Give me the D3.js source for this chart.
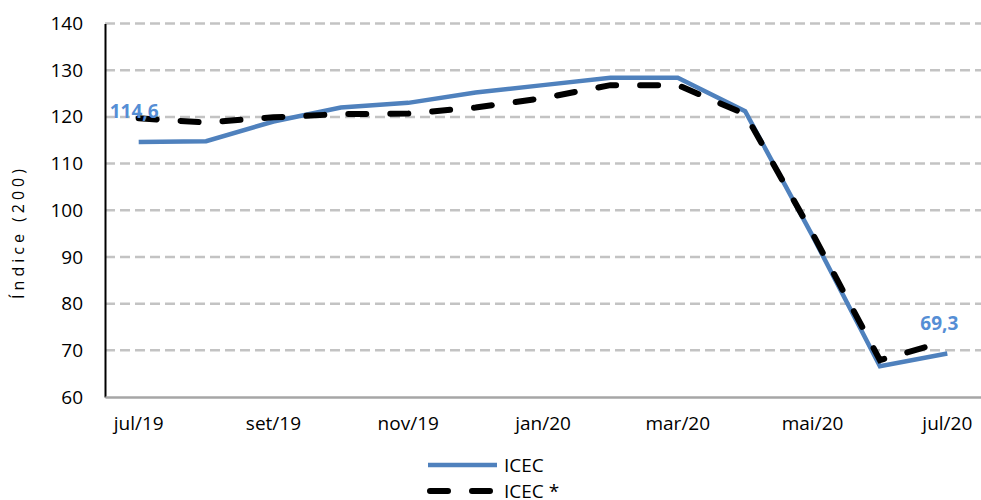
<!DOCTYPE html>
<html><head><meta charset="utf-8">
<script src="https://cdn.jsdelivr.net/npm/d3@7"></script>
<style>body{margin:0;background:#fff;}svg{display:block;font-family:"Open Sans",Lato,sans-serif;}</style>
</head><body>
<svg id="c" width="981" height="500"></svg>
<script>
const months = ["jul/19","ago/19","set/19","out/19","nov/19","dez/19","jan/20","fev/20","mar/20","abr/20","mai/20","jun/20","jul/20"];
const tickLabels = ["jul/19","set/19","nov/19","jan/20","mar/20","mai/20","jul/20"];
const icec = [114.6,114.8,119.0,122.0,123.0,125.2,126.8,128.4,128.4,121.2,94.5,66.6,69.3];
const icecStar = [119.7,118.8,119.9,120.6,120.7,122.0,124.0,126.8,126.8,120.6,95.0,67.9,72.0];
const yTicks = [60,70,80,90,100,110,120,130,140];
const seriesNames = ["ICEC","ICEC *"];
const yTitle = "Índice (200)";

const FF = "'Open Sans',Lato,sans-serif";
const svg = d3.select("#c");
const x = d3.scaleBand().domain(months).range([105, 981]);
const cx = m => x(m) + x.bandwidth()/2;
const y = d3.scaleLinear().domain([60,140]).range([397, 23.5]);

// gridlines
svg.append("g").selectAll("line").data(yTicks.filter(d=>d>60)).join("line")
  .attr("x1",105).attr("x2",981).attr("y1",d=>y(d)).attr("y2",d=>y(d))
  .attr("stroke","#c3c3c3").attr("stroke-width",2.5).attr("stroke-dasharray","10,5");

// y axis
const ya = svg.append("g").attr("transform","translate(105,0)")
  .call(d3.axisLeft(y).tickValues(yTicks).tickSize(0).tickPadding(22));
ya.select(".domain").attr("stroke","#000").attr("stroke-width",2);
ya.selectAll("text").attr("font-size",19).attr("fill","#000").attr("font-family",FF);

// x axis
const xa = svg.append("g").attr("transform","translate(0,397)")
  .call(d3.axisBottom(x).tickValues(tickLabels).tickSize(0).tickPadding(20));
xa.select(".domain").attr("stroke","#a6a6a6").attr("stroke-width",2.5);
xa.selectAll("text").attr("font-size",19).attr("fill","#000").attr("font-family",FF);

// y title
svg.append("text").attr("transform","translate(24,232) rotate(-90)")
  .attr("text-anchor","middle").attr("font-size",16).attr("letter-spacing",4)
  .text(yTitle);

const line = d3.line().x((d,i)=>cx(months[i])).y(d=>y(d));

svg.append("path").datum(icec).attr("d",line).attr("fill","none")
  .attr("stroke","#4f81bd").attr("stroke-width",4.5).attr("stroke-linejoin","miter");
svg.append("path").datum(icecStar).attr("d",line).attr("fill","none")
  .attr("stroke","#000").attr("stroke-width",6).attr("stroke-linecap","round")
  .attr("stroke-dasharray","18,24");

// data labels
const fmt = v => String(v).replace(".",",");
svg.append("text").attr("x",cx(months[0])-29).attr("y",y(icec[0])-24)
  .attr("font-size",19).attr("font-weight","bold").attr("fill","#558ed5").text(fmt(icec[0]));
svg.append("text").attr("x",cx(months[12])-27).attr("y",y(icec[12])-24)
  .attr("font-size",19).attr("font-weight","bold").attr("fill","#558ed5").text(fmt(icec[12]));

// legend
const lg = svg.append("g");
lg.append("line").attr("x1",428).attr("x2",497).attr("y1",465).attr("y2",465)
  .attr("stroke","#4f81bd").attr("stroke-width",4.5);
lg.append("text").attr("x",504).attr("y",472).attr("font-size",19).text(seriesNames[0]);
lg.append("line").attr("x1",430).attr("x2",497).attr("y1",491).attr("y2",491)
  .attr("stroke","#000").attr("stroke-width",6).attr("stroke-linecap","round").attr("stroke-dasharray","18,24");
lg.append("text").attr("x",504).attr("y",498).attr("font-size",19).text(seriesNames[1]);
</script>
</body></html>
